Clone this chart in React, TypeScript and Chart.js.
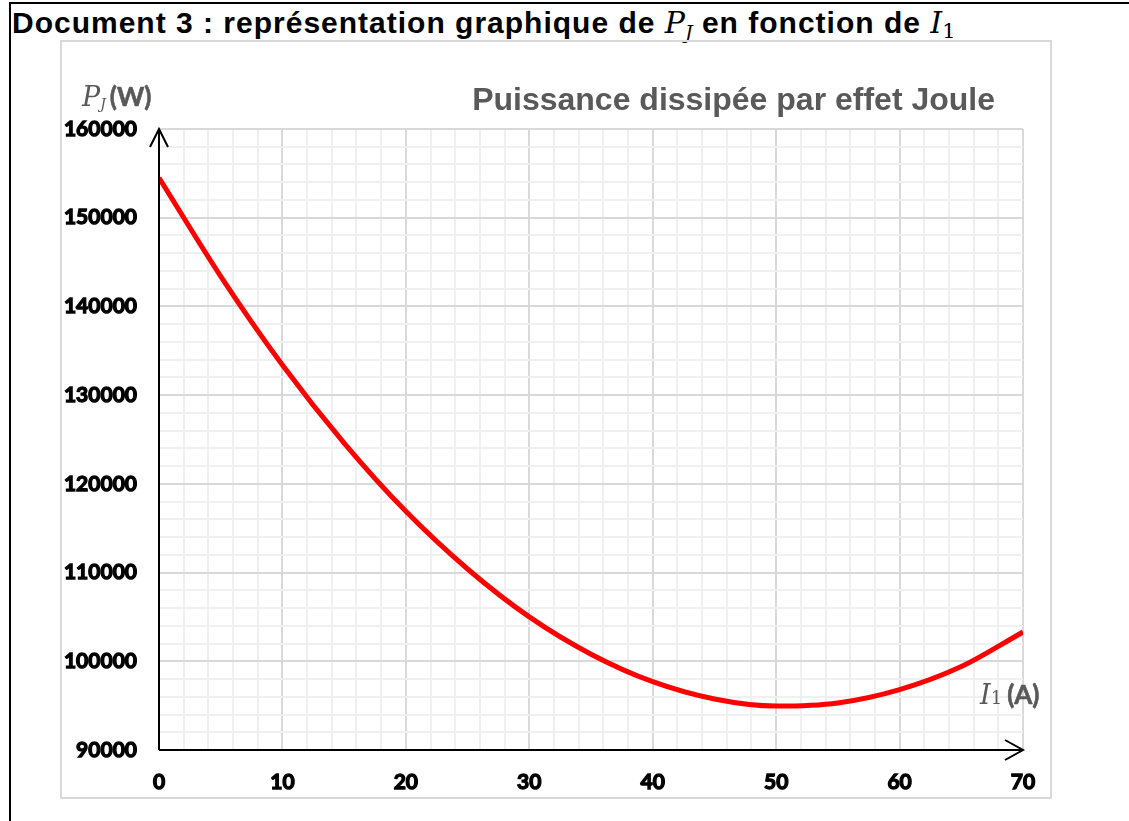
import React, { useEffect, useRef } from 'react';
import { Chart, registerables } from 'chart.js';

Chart.register(...registerables);

// Current I1 (A)
const currentA = [0, 5, 10, 15, 20, 25, 30, 35, 40, 45, 50, 55, 60, 65, 70];
// Joule power P_J (W)
const powerW = [154500, 143400, 133400, 124600, 116900, 110400, 105000, 100800, 97700, 95750, 94950, 95300, 96800, 99400, 103300];

const xTickLabels = [0, 10, 20, 30, 40, 50, 60, 70];
const yTickLabels = [90000, 100000, 110000, 120000, 130000, 140000, 150000, 160000];

const X_MIN = 0;
const X_MAX = 70;
const X_MINOR = 2;
const Y_MIN = 90000;
const Y_MAX = 160000;
const Y_MINOR = 2000;

const axesArrows = {
  id: 'axesArrows',
  afterDatasetsDraw(chart: any) {
    const { ctx, chartArea } = chart;
    const { left, right, top, bottom } = chartArea;
    ctx.save();
    ctx.strokeStyle = '#000000';
    ctx.lineWidth = 2;
    ctx.lineJoin = 'miter';
    ctx.beginPath();
    ctx.moveTo(left, bottom);
    ctx.lineTo(left, top);
    ctx.moveTo(left, bottom);
    ctx.lineTo(right, bottom);
    ctx.stroke();
    ctx.beginPath();
    ctx.moveTo(left - 9, top + 18);
    ctx.lineTo(left, top);
    ctx.lineTo(left + 9, top + 18);
    ctx.moveTo(right - 18, bottom - 10);
    ctx.lineTo(right, bottom);
    ctx.lineTo(right - 18, bottom + 10);
    ctx.stroke();
    ctx.restore();
  },
};

export default function App() {
  const canvasRef = useRef<HTMLCanvasElement | null>(null);

  useEffect(() => {
    const canvas = canvasRef.current;
    if (!canvas) return;
    const points = currentA.map((x, i) => ({ x, y: powerW[i] }));
    const tickFont = { family: 'Lato', weight: 'bold', size: 21 };
    const chart = new Chart(canvas, {
      type: 'line',
      data: {
        datasets: [
          {
            data: points,
            borderColor: '#ff0000',
            borderWidth: 5,
            pointRadius: 0,
            fill: false,
            cubicInterpolationMode: 'monotone',
          },
        ],
      },
      options: {
        animation: false,
        responsive: false,
        devicePixelRatio: 1,
        layout: { padding: { left: 0, top: 129, right: 106, bottom: 0 } },
        plugins: {
          legend: { display: false },
          title: { display: false },
          tooltip: { enabled: false },
        },
        scales: {
          x: {
            type: 'linear',
            min: X_MIN,
            max: X_MAX,
            border: { display: false },
            grid: {
              drawTicks: false,
              lineWidth: 2,
              color: (c: any) => (xTickLabels.includes(c.tick?.value) ? '#d9d9d9' : '#f0f0f0'),
            },
            ticks: {
              stepSize: X_MINOR,
              autoSkip: false,
              maxRotation: 0,
              padding: 20,
              color: '#000000',
              textStrokeColor: '#000000',
              textStrokeWidth: 1.3,
              font: tickFont,
              callback: (v: any) => (xTickLabels.includes(Number(v)) ? String(v) : ''),
            },
            afterFit: (s: any) => {
              s.height = 71;
            },
          },
          y: {
            type: 'linear',
            min: Y_MIN,
            max: Y_MAX,
            border: { display: false },
            grid: {
              drawTicks: false,
              lineWidth: 2,
              color: (c: any) => (yTickLabels.includes(c.tick?.value) ? '#d9d9d9' : '#f0f0f0'),
            },
            ticks: {
              stepSize: Y_MINOR,
              autoSkip: false,
              padding: 22,
              color: '#000000',
              textStrokeColor: '#000000',
              textStrokeWidth: 1.3,
              font: tickFont,
              callback: (v: any) => (yTickLabels.includes(Number(v)) ? String(v) : ''),
            },
            afterFit: (s: any) => {
              s.width = 159;
            },
          },
        },
      },
      plugins: [axesArrows],
    } as any);
    return () => chart.destroy();
  }, []);

  const serifItalic: React.CSSProperties = {
    fontFamily: '"DejaVu Serif", serif',
    fontStyle: 'italic',
    fontWeight: 'normal',
    letterSpacing: 0,
  };

  return (
    <div style={{ position: 'absolute', left: 0, top: 0, width: 1129, height: 821, background: '#ffffff', overflow: 'hidden' }}>
      {/* outer document frame */}
      <div style={{ position: 'absolute', left: 9, top: 2, width: 1122, height: 830, borderLeft: '2px solid #000', borderTop: '2px solid #000' }} />
      {/* document title */}
      <div
        style={{
          position: 'absolute',
          left: 12,
          top: 8,
          fontFamily: '"Liberation Sans", Arial, sans-serif',
          fontWeight: 'bold',
          fontSize: 30,
          lineHeight: '30px',
          letterSpacing: '1px',
          whiteSpace: 'nowrap',
          color: '#000',
        }}
      >
        Document 3 : représentation graphique de{' '}
        <span style={{ ...serifItalic, fontSize: 30 }}>P</span>
        <span style={{ ...serifItalic, fontSize: 19, position: 'relative', top: 6 }}>J</span> en fonction de{' '}
        <span style={{ ...serifItalic, fontSize: 30 }}>I</span>
        <span style={{ fontFamily: '"DejaVu Serif", serif', fontWeight: 'normal', fontSize: 21, position: 'relative', top: 5, letterSpacing: 0 }}>1</span>
      </div>
      {/* chart frame */}
      <div style={{ position: 'absolute', left: 60, top: 40, width: 988, height: 755, border: '2px solid #d9d9d9' }} />
      <canvas ref={canvasRef} width={1129} height={821} style={{ position: 'absolute', left: 0, top: 0, width: 1129, height: 821 }} />
      {/* chart title */}
      <div
        style={{
          position: 'absolute',
          left: 400,
          top: 83,
          width: 595,
          textAlign: 'right',
          fontFamily: '"Liberation Sans", Arial, sans-serif',
          fontWeight: 'bold',
          fontSize: 32,
          lineHeight: '32px',
          color: '#595959',
          whiteSpace: 'nowrap',
        }}
      >
        Puissance dissipée par effet Joule
      </div>
      {/* y axis label */}
      <div style={{ position: 'absolute', left: 82, top: 80, lineHeight: '32px', whiteSpace: 'nowrap', color: '#595959' }}>
        <span style={{ ...serifItalic, fontSize: 27 }}>P</span>
        <span style={{ ...serifItalic, fontSize: 14, position: 'relative', top: 3 }}>J</span>
        <span style={{ fontFamily: 'Lato', fontWeight: 'bold', fontSize: 26, marginLeft: 4, WebkitTextStroke: '0.6px #595959' }}>(W)</span>
      </div>
      {/* x axis label */}
      <div style={{ position: 'absolute', left: 980, top: 678, lineHeight: '32px', whiteSpace: 'nowrap', color: '#595959' }}>
        <span style={{ ...serifItalic, fontSize: 27 }}>I</span>
        <span style={{ fontFamily: '"DejaVu Serif", serif', fontSize: 18 }}>1</span>
        <span style={{ fontFamily: 'Lato', fontWeight: 'bold', fontSize: 26, marginLeft: 5, WebkitTextStroke: '0.6px #595959' }}>(A)</span>
      </div>
    </div>
  );
}
